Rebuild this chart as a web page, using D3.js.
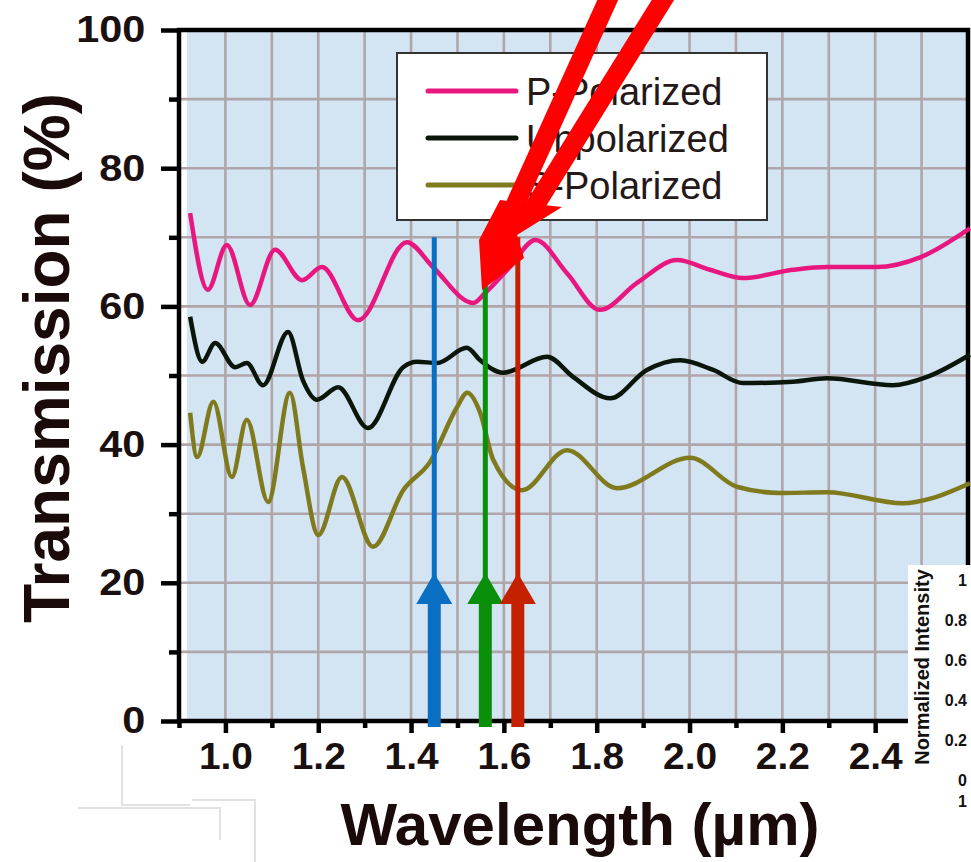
<!DOCTYPE html>
<html>
<head>
<meta charset="utf-8">
<script src="https://cdn.jsdelivr.net/npm/d3@7/dist/d3.min.js"></script>
<style>
body { margin: 0; background: #fff; }
svg { display: block; }
text { font-family: "Liberation Sans", Arial, sans-serif; }
</style>
</head>
<body>
<svg id="chart" width="971" height="862"></svg>
<script>
// Transmission spectra.
const waveP  = [0.924, 0.962, 1.003, 1.053, 1.107, 1.165, 1.208, 1.286, 1.391, 1.447, 1.534, 1.559, 1.613, 1.668, 1.736, 1.807, 1.887, 1.973, 2.044, 2.115, 2.223, 2.296, 2.404, 2.497, 2.604];
const transP = [73.5, 62.4, 68.9, 60.2, 68.2, 63.8, 65.7, 58.0, 69.3, 65.7, 60.5, 61.9, 65.7, 69.6, 64.8, 59.5, 63.4, 66.7, 65.3, 64.1, 65.3, 65.7, 65.7, 67.1, 71.3];

const waveU  = [0.924, 0.950, 0.978, 1.021, 1.046, 1.081, 1.135, 1.167, 1.197, 1.243, 1.307, 1.383, 1.413, 1.456, 1.520, 1.549, 1.598, 1.693, 1.749, 1.829, 1.908, 1.980, 2.051, 2.115, 2.223, 2.296, 2.438, 2.512, 2.604];
const transU = [58.5, 52.0, 54.7, 51.2, 51.8, 48.6, 56.3, 49.3, 46.5, 48.3, 42.4, 51.2, 52.0, 51.8, 54.0, 52.2, 50.4, 52.7, 49.8, 46.7, 50.8, 52.2, 50.8, 48.9, 49.1, 49.6, 48.6, 49.8, 53.0];

const waveS  = [0.924, 0.939, 0.974, 1.014, 1.046, 1.092, 1.139, 1.167, 1.200, 1.251, 1.318, 1.383, 1.441, 1.499, 1.521, 1.549, 1.577, 1.639, 1.736, 1.844, 2.001, 2.102, 2.195, 2.296, 2.460, 2.525, 2.604];
const transS = [44.6, 38.2, 46.2, 35.3, 43.6, 31.7, 47.5, 36.8, 26.9, 35.3, 25.2, 33.4, 37.5, 45.4, 47.5, 44.6, 37.8, 33.4, 39.2, 33.7, 38.1, 33.9, 33.0, 33.1, 31.5, 32.3, 34.4];

const seriesNames  = ["P-Polarized", "Unpolarized", "S-Polarized"];
const seriesColors = ["#e8177f", "#0b160b", "#807a1f"];

const xTickValues = [1.0, 1.2, 1.4, 1.6, 1.8, 2.0, 2.2, 2.4, 2.6];
const yTickValues = [0, 20, 40, 60, 80, 100];

// marker arrows (wavelength, colour)
const markerWaves  = [1.45, 1.56, 1.63];
const markerColors = ["#0a6fc3", "#0a8f0a", "#c42100"];

// inset axis labels on the right
const insetTicks = ["1", "0.8", "0.6", "0.4", "0.2", "0", "1"];

const svg = d3.select("#chart");

const x = d3.scaleLinear().domain([0.9, 2.6]).range([179, 968]);
const y = d3.scaleLinear().domain([0, 100]).range([721, 30]);

// plot background (leaves a thin white strip next to the axis)
svg.append("rect")
    .attr("x", x(0.917)).attr("y", y(100))
    .attr("width", x(2.6) - x(0.917)).attr("height", y(0) - y(100))
    .attr("fill", "#d3e4f3");

// grid
const grid = svg.append("g").attr("stroke", "#b0a6a9").attr("stroke-width", 2.6);
d3.range(1.0, 2.55, 0.1).forEach(w => {
    grid.append("line").attr("x1", x(w)).attr("x2", x(w)).attr("y1", y(100)).attr("y2", y(0));
});
d3.range(10, 95, 10).forEach(v => {
    grid.append("line").attr("x1", x(0.9)).attr("x2", x(2.6)).attr("y1", y(v)).attr("y2", y(v));
});

// frame
svg.append("rect")
    .attr("x", x(0.9)).attr("y", y(100))
    .attr("width", x(2.6) - x(0.9)).attr("height", y(0) - y(100))
    .attr("fill", "none").attr("stroke", "#000").attr("stroke-width", 4.5);

// y axis
const yAxis = svg.append("g")
    .attr("transform", `translate(${x(0.9)},0)`)
    .call(d3.axisLeft(y).tickValues(yTickValues).tickSize(18).tickPadding(12).tickFormat(d3.format("d")));
yAxis.select(".domain").remove();
yAxis.selectAll(".tick line").attr("stroke-width", 4.5);
yAxis.selectAll(".tick text")
    .attr("font-size", 37).attr("font-weight", "bold").attr("fill", "#1a1010")
    .attr("font-family", "Liberation Sans, Arial, sans-serif")
    .attr("transform", "scale(1.12,1)");
const yMinor = svg.append("g")
    .attr("transform", `translate(${x(0.9)},0)`)
    .call(d3.axisLeft(y).tickValues([10, 30, 50, 70, 90]).tickSize(10).tickFormat(""));
yMinor.select(".domain").remove();
yMinor.selectAll(".tick line").attr("stroke-width", 4.5);

// x axis
const xAxis = svg.append("g")
    .attr("transform", `translate(0,${y(0)})`)
    .call(d3.axisBottom(x).tickValues(xTickValues).tickSize(12).tickPadding(10).tickFormat(d3.format(".1f")));
xAxis.select(".domain").remove();
xAxis.selectAll(".tick line").attr("stroke-width", 4.5);
xAxis.selectAll(".tick text")
    .attr("font-size", 37).attr("font-weight", "bold").attr("fill", "#1a1010")
    .attr("font-family", "Liberation Sans, Arial, sans-serif")
    .attr("transform", "scale(1.05,1)");
const xMinor = svg.append("g")
    .attr("transform", `translate(0,${y(0)})`)
    .call(d3.axisBottom(x).tickValues(d3.range(0.9, 2.55, 0.2)).tickSize(7).tickFormat(""));
xMinor.select(".domain").remove();
xMinor.selectAll(".tick line").attr("stroke-width", 4.5);

// axis titles
svg.append("text")
    .attr("x", 580).attr("y", 845)
    .attr("text-anchor", "middle")
    .attr("font-size", 60).attr("font-weight", "bold").attr("fill", "#1a0a0a")
    .text("Wavelength (µm)");
svg.append("text")
    .attr("transform", "translate(69,358) rotate(-90)")
    .attr("text-anchor", "middle")
    .attr("font-size", 64).attr("font-weight", "bold").attr("fill", "#1a0a0a")
    .text("Transmission (%)");

// curves
const line = d3.line().x(d => x(d[0])).y(d => y(d[1])).curve(d3.curveMonotoneX);
const series = [
    d3.zip(waveP, transP),
    d3.zip(waveU, transU),
    d3.zip(waveS, transS)
];
svg.append("g").selectAll("path")
    .data(series)
    .join("path")
    .attr("d", line)
    .attr("fill", "none")
    .attr("stroke", (d, i) => seriesColors[i])
    .attr("stroke-width", 4.5)
    .attr("stroke-linejoin", "round");

// legend
const legend = svg.append("g");
legend.append("rect")
    .attr("x", 397).attr("y", 53).attr("width", 370).attr("height", 167)
    .attr("fill", "#fff").attr("stroke", "#333").attr("stroke-width", 2);
seriesNames.forEach((name, i) => {
    const ly = 91 + i * 47;
    legend.append("line")
        .attr("x1", 428).attr("x2", 516).attr("y1", ly).attr("y2", ly)
        .attr("stroke", seriesColors[i]).attr("stroke-width", 5).attr("stroke-linecap", "round");
    legend.append("text")
        .attr("x", 526).attr("y", ly).attr("dy", "0.36em")
        .attr("font-size", 38).attr("fill", "#241818")
        .text(name);
});

// vertical marker arrows
const markers = svg.append("g");
markerWaves.forEach((w, i) => {
    const cx = x(w), c = markerColors[i];
    markers.append("line")
        .attr("x1", cx).attr("x2", cx).attr("y1", y(70)).attr("y2", 580)
        .attr("stroke", c).attr("stroke-width", 5);
    markers.append("line")
        .attr("x1", cx).attr("x2", cx).attr("y1", 600).attr("y2", 727)
        .attr("stroke", c).attr("stroke-width", 13);
    markers.append("path")
        .attr("d", `M${cx},${573} L${cx + 18},${604} L${cx - 18},${604} Z`)
        .attr("fill", c);
});

// big red pointer: two shafts meeting in one head
const pointer = svg.append("g").attr("fill", "#ff0000").attr("stroke", "#ff0000");
pointer.append("line")
    .attr("x1", 610).attr("y1", -5).attr("x2", 497).attr("y2", 245)
    .attr("stroke-width", 19);
pointer.append("line")
    .attr("x1", 666).attr("y1", -5).attr("x2", 530).attr("y2", 214)
    .attr("stroke-width", 19);
pointer.append("path")
    .attr("d", "M500,200 L562,207 L517,235 L524,258 L482,290 L479,240 Z")
    .attr("stroke", "none");

// pasted inset remnant at the bottom right
const inset = svg.append("g");
inset.append("rect")
    .attr("x", 908).attr("y", 565).attr("width", 63).attr("height", 297)
    .attr("fill", "#fff");
inset.append("text")
    .attr("transform", "translate(929,667) rotate(-90)")
    .attr("text-anchor", "middle")
    .attr("font-size", 20).attr("font-weight", "bold").attr("fill", "#111")
    .text("Normalized Intensity");
insetTicks.forEach((t, i) => {
    const ty = i < 6 ? 580 + i * 40 : 801;
    inset.append("text")
        .attr("x", 967).attr("y", ty).attr("dy", "0.36em")
        .attr("text-anchor", "end")
        .attr("font-size", 16).attr("font-weight", "bold").attr("fill", "#111")
        .text(t);
});

// faint outlines of pasted boxes, bottom left
svg.append("path")
    .attr("d", "M122,745 L122,805 L190,805 M192,800 L255,800 L255,862 M78,808 L220,808 L220,840")
    .attr("fill", "none").attr("stroke", "#e2e2e2").attr("stroke-width", 2);
</script>
</body>
</html>
